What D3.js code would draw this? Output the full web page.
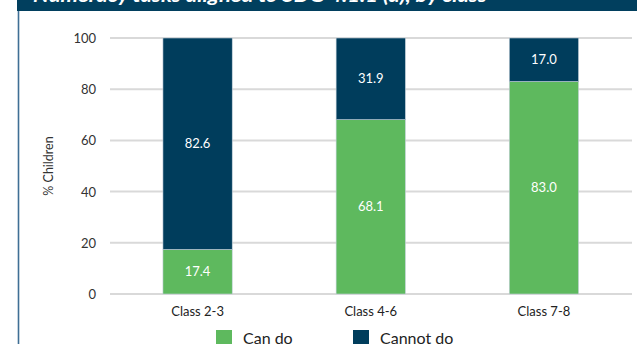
<!DOCTYPE html>
<html><head><meta charset="utf-8">
<script src="https://cdn.jsdelivr.net/npm/d3@7"></script>
<style>html,body{margin:0;padding:0;background:#fff;overflow:hidden}</style>
</head><body>
<svg id="c" width="637" height="344"></svg>
<script>
const title = "Numeracy tasks aligned to SDG 4.1.1 (a), by class";
const categories = ["Class 2-3", "Class 4-6", "Class 7-8"];
const canDo = [17.4, 68.1, 83.0];
const cannotDo = [82.6, 31.9, 17.0];
const seriesNames = ["Can do", "Cannot do"];
const yTicks = [0, 20, 40, 60, 80, 100];
const colors = ["#5eb95e", "#003d5c"];

const svg = d3.select("#c");
const font = "Lato, 'Open Sans', sans-serif";

// title bar
svg.append("rect").attr("x", 17).attr("y", 0).attr("width", 620).attr("height", 11).attr("fill", "#013f5e");
svg.append("text").attr("x", 33).attr("y", 1.5).attr("fill", "#fff")
  .attr("font-family", font).attr("font-weight", "bold").attr("font-style", "italic")
  .attr("font-size", 19).attr("textLength", 454).attr("lengthAdjust", "spacingAndGlyphs").text(title);
// left frame line
svg.append("line").attr("x1", 18.5).attr("x2", 18.5).attr("y1", 11).attr("y2", 344)
  .attr("stroke", "#3f6f95").attr("stroke-width", 1.6);

const x = d3.scaleBand().domain(categories).range([111, 630.5]).paddingInner(0.6).paddingOuter(0.3);
const y = d3.scaleLinear().domain([0, 100]).range([294, 38]);

// gridlines
svg.append("g").selectAll("line").data(yTicks).join("line")
  .attr("x1", 110).attr("x2", 632).attr("y1", d => y(d)).attr("y2", d => y(d))
  .attr("stroke", "#d9d9d9").attr("stroke-width", 2);

// y axis labels
const yAxis = d3.axisLeft(y).tickValues(yTicks).tickSize(0).tickPadding(0);
const ga = svg.append("g").attr("transform", "translate(96,0)").call(yAxis);
ga.select(".domain").remove();
ga.selectAll("text").attr("font-family", font).attr("font-size", 13).attr("fill", "#333").attr("dy", "0.35em");

svg.append("text").attr("transform", "translate(53,166) rotate(-90)").attr("text-anchor", "middle")
  .attr("font-family", font).attr("font-size", 12.5).attr("fill", "#333").text("% Children");

// stacked data
const rows = categories.map((c, i) => ({cat: c, "Can do": canDo[i], "Cannot do": cannotDo[i]}));
const stack = d3.stack().keys(seriesNames)(rows);

const layers = svg.append("g").selectAll("g").data(stack).join("g").attr("fill", (d, i) => colors[i]);
layers.selectAll("rect").data(d => d).join("rect")
  .attr("x", d => x(d.data.cat)).attr("width", x.bandwidth())
  .attr("y", d => y(d[1])).attr("height", d => y(d[0]) - y(d[1]))
  .attr("stroke", "#c3d0da").attr("stroke-width", 0.6);

layers.selectAll("text").data(d => d).join("text")
  .attr("x", d => x(d.data.cat) + x.bandwidth() / 2).attr("y", d => (y(d[0]) + y(d[1])) / 2)
  .attr("dy", "0.35em").attr("text-anchor", "middle").attr("fill", "#fff")
  .attr("font-family", font).attr("font-size", 13)
  .text(d => (d[1] - d[0]).toFixed(1));

// category labels
const xAxis = d3.axisBottom(x).tickSize(0).tickPadding(0);
const gx = svg.append("g").attr("transform", "translate(0,311)").call(xAxis);
gx.select(".domain").remove();
gx.selectAll("text").attr("font-family", font).attr("font-size", 13).attr("fill", "#222").attr("dy", "0.35em");

// legend
const legX = [216, 353];
const leg = svg.append("g").selectAll("g").data(seriesNames).join("g")
  .attr("transform", (d, i) => `translate(${legX[i]},330)`);
leg.append("rect").attr("width", 16).attr("height", 16).attr("fill", (d, i) => colors[i]);
leg.append("text").attr("x", 27).attr("y", 8).attr("dy", "0.35em")
  .attr("font-family", font).attr("font-size", 16).attr("fill", "#222").text(d => d);
</script>
</body></html>
